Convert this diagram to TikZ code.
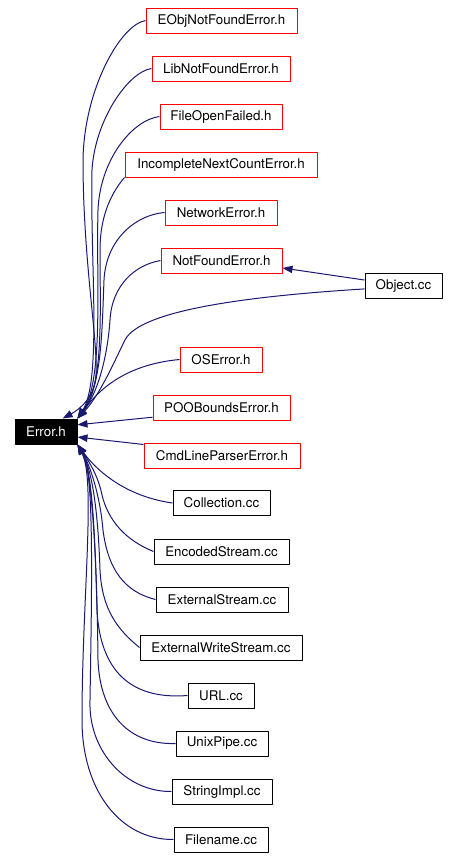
\documentclass[tikz,border=0pt]{standalone}
\usepackage{fontspec}
\setmainfont{TeX Gyre Heros}
\usetikzlibrary{arrows.meta}
\definecolor{edgeblue}{RGB}{25,25,112}

\begin{document}
\begin{tikzpicture}[x=0.75pt, y=-0.75pt, line width=0.75pt, line join=round,
    >={Triangle[length=7.5pt,width=5.5pt]},
    srcbox/.style={draw, minimum width=#1*0.75pt, minimum height=18.75pt, inner sep=0pt,
      font=\fontsize{10}{12}\selectfont},
    hdrbox/.style={srcbox=#1, draw=red},
    ccbox/.style={srcbox=#1, draw=black},
    rootbox/.style={srcbox=#1, fill=black, text=white},
    dep/.style={draw=edgeblue, ->}]
  \useasboundingbox (0,0) rectangle (450,858);

  % files that include Error.h
  \node[hdrbox=151] (eobj) at (221.5,20.5) {EObjNotFoundError.h};
  \node[hdrbox=138] (libnf) at (221,68.5) {LibNotFoundError.h};
  \node[hdrbox=122] (fopen) at (221,116.5) {FileOpenFailed.h};
  \node[hdrbox=192] (incnext) at (221,164.5) {IncompleteNextCountError.h};
  \node[hdrbox=112] (neterr) at (221,212.5) {NetworkError.h};
  \node[hdrbox=121] (notfound) at (221.5,260.5) {NotFoundError.h};
  \node[ccbox=77] (object) at (403.5,285.5) {Object.cc};
  \node[hdrbox=82] (oserr) at (221,359.5) {OSError.h};
  \node[hdrbox=137] (poob) at (221.5,407.5) {POOBoundsError.h};
  \node[rootbox=62] (error) at (46,431.5) {Error.h};
  \node[hdrbox=156] (cmdline) at (222,455.5) {CmdLineParserError.h};
  \node[ccbox=97] (coll) at (221.5,503) {Collection.cc};
  \node[ccbox=135] (encstr) at (221.5,551.5) {EncodedStream.cc};
  \node[ccbox=132] (extstr) at (222,599.5) {ExternalStream.cc};
  \node[ccbox=162] (extwr) at (221,647.5) {ExternalWriteStream.cc};
  \node[ccbox=66] (url) at (221,695.5) {URL.cc};
  \node[ccbox=92] (pipe) at (222,743.5) {UnixPipe.cc};
  \node[ccbox=100] (strimpl) at (222,791.5) {StringImpl.cc};
  \node[ccbox=94] (fname) at (221,839.5) {Filename.cc};

  % upper bundle
  \draw[dep] (eobj.west) .. controls (120,25) and (84,90) .. (83,160)
    .. controls (83,260) and (98,340) .. (96,375) .. controls (95,395) and (82,408) .. (error.38);
  \draw[dep] (libnf.west) .. controls (128,72) and (95,120) .. (92,170)
    .. controls (90,260) and (102,380) .. (error.north east);
  \draw[dep] (fopen.west) .. controls (132,120) and (100,160) .. (98,210)
    .. controls (96,280) and (104,380) .. (error.north east);
  \draw[dep] (incnext.south west) .. controls (112,192) and (100,215) .. (100,250)
    .. controls (100,310) and (104,385) .. (error.north east);
  \draw[dep] (neterr.west) .. controls (135,215) and (106,240) .. (104,280)
    .. controls (102,330) and (102,385) .. (error.north east);
  \draw[dep] (notfound.west) .. controls (135,265) and (112,285) .. (110,320)
    .. controls (108,350) and (100,390) .. (error.north east);
  \draw[dep] (object.185) .. controls (250,296) and (140,310) .. (125,340)
    .. controls (115,360) and (100,395) .. (error.north east);
  \draw[dep] (oserr.west) .. controls (120,365) and (95,395) .. (error.north east);
  \draw[dep] (object.172) -- (notfound.-7);

  % straight ones
  \draw[dep] (poob.188) -- (error.12);
  \draw[dep] (cmdline.172) -- (error.-10);

  % lower bundle
  \draw[dep] (coll.west) .. controls (130,497) and (100,475) .. (error.south east);
  \draw[dep] (encstr.west) .. controls (125,540) and (108,520) .. (102,495)
    .. controls (98,475) and (88,460) .. (error.south east);
  \draw[dep] (extstr.west) .. controls (125,592) and (108,570) .. (103,530)
    .. controls (100,495) and (90,465) .. (error.south east);
  \draw[dep] (extwr.west) .. controls (118,630) and (102,610) .. (100,570)
    .. controls (98,510) and (92,470) .. (error.south east);
  \draw[dep] (url.west) .. controls (130,700) and (100,670) .. (97,610)
    .. controls (95,530) and (92,470) .. (error.south east);
  \draw[dep] (pipe.west) .. controls (130,745) and (100,715) .. (98,660)
    .. controls (97,560) and (92,470) .. (error.south east);
  \draw[dep] (strimpl.west) .. controls (125,792) and (88,750) .. (90,700)
    .. controls (92,580) and (94,470) .. (error.south east);
  \draw[dep] (fname.west) .. controls (120,840) and (82,790) .. (82,720)
    .. controls (82,600) and (96,480) .. (error.south east);
\end{tikzpicture}
\end{document}
